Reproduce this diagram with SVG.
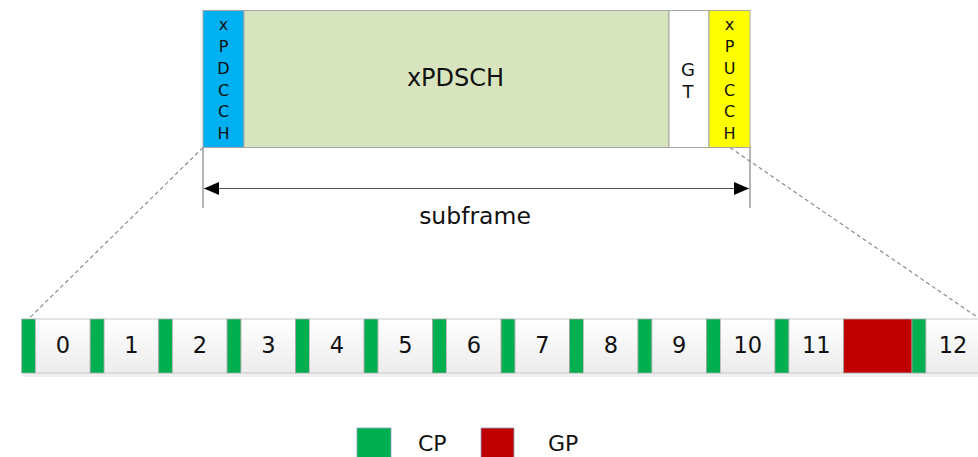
<svg xmlns="http://www.w3.org/2000/svg" width="978" height="457" viewBox="0 0 978 457">
<defs>
<style>
text{font-family:"DejaVu Sans","Open Sans","Noto Sans",sans-serif;fill:#111}
.bx{stroke:#a6a6a6;stroke-width:1}
.cp{fill:#00b050;stroke:#a6a6a6;stroke-width:0.8}
.dat{fill:url(#g);stroke:#bfbfbf;stroke-width:0.8}
.num{font-size:22.5px;text-anchor:middle}
.vl{font-size:16px;text-anchor:middle}
.dash{stroke:#8c8c8c;stroke-width:1.2;stroke-dasharray:4 3;fill:none}
.ln{stroke:#8c8c8c;stroke-width:1.3;fill:none}
</style>
<linearGradient id="g" x1="0" y1="0" x2="0" y2="1">
<stop offset="0" stop-color="#ffffff"/>
<stop offset="1" stop-color="#ececec"/>
</linearGradient>
<marker id="ah" viewBox="0 0 15 13" refX="15" refY="6.5" markerWidth="15" markerHeight="13" markerUnits="userSpaceOnUse" orient="auto-start-reverse">
<path d="M0,0 L15,6.5 L0,13 Z" fill="#000"/>
</marker>
</defs>
<rect width="978" height="457" fill="#fff"/>

<g id="connectors">
<line class="dash" x1="203" y1="147.5" x2="29" y2="318.5"/>
<line class="dash" x1="730" y1="147.5" x2="977" y2="317"/>
<line class="ln" x1="203" y1="147.5" x2="203" y2="208"/>
<line class="ln" x1="750" y1="147.5" x2="750" y2="208"/>
<line x1="204" y1="188.5" x2="749" y2="188.5" stroke="#555" stroke-width="1.2" marker-start="url(#ah)" marker-end="url(#ah)"/>
</g>

<g id="xpdcch">
<rect class="bx" x="203" y="10.5" width="41" height="137" fill="#00b0f0"/>
<text class="vl" x="223.5" y="30">x</text>
<text class="vl" x="223.5" y="52">P</text>
<text class="vl" x="223.5" y="74">D</text>
<text class="vl" x="223.5" y="95.5">C</text>
<text class="vl" x="223.5" y="117">C</text>
<text class="vl" x="223.5" y="139">H</text>
</g>
<g id="xpdsch">
<rect class="bx" x="244" y="10.5" width="425" height="137" fill="#d7e4bd"/>
<text x="455.5" y="86" font-size="24" text-anchor="middle">xPDSCH</text>
</g>
<g id="gt">
<rect class="bx" x="669" y="10.5" width="40" height="137" fill="#fff"/>
<text x="688" y="75.5" font-size="18" text-anchor="middle">G</text>
<text x="688" y="97.5" font-size="18" text-anchor="middle">T</text>
</g>
<g id="xpucch">
<rect class="bx" x="709" y="10.5" width="41" height="137" fill="#ffff00"/>
<text class="vl" x="729.5" y="30">x</text>
<text class="vl" x="729.5" y="52">P</text>
<text class="vl" x="729.5" y="74">U</text>
<text class="vl" x="729.5" y="95.5">C</text>
<text class="vl" x="729.5" y="117">C</text>
<text class="vl" x="729.5" y="139">H</text>
</g>
<g id="subframe-label">
<text x="475" y="224" font-size="23.5" text-anchor="middle">subframe</text>
</g>

<g id="shadow">
<rect x="23" y="373" width="955" height="4" fill="#f0f0f0"/>
</g>

<g id="sym0"><rect class="cp" x="21.7" y="319" width="14" height="54"/><rect class="dat" x="35.7" y="319" width="54.5" height="54"/><text class="num" x="63" y="352.5">0</text></g>
<g id="sym1"><rect class="cp" x="90.2" y="319" width="14" height="54"/><rect class="dat" x="104.2" y="319" width="54.5" height="54"/><text class="num" x="131.4" y="352.5">1</text></g>
<g id="sym2"><rect class="cp" x="158.7" y="319" width="14" height="54"/><rect class="dat" x="172.7" y="319" width="54.5" height="54"/><text class="num" x="199.9" y="352.5">2</text></g>
<g id="sym3"><rect class="cp" x="227.1" y="319" width="14" height="54"/><rect class="dat" x="241.1" y="319" width="54.5" height="54"/><text class="num" x="268.4" y="352.5">3</text></g>
<g id="sym4"><rect class="cp" x="295.6" y="319" width="14" height="54"/><rect class="dat" x="309.6" y="319" width="54.5" height="54"/><text class="num" x="336.9" y="352.5">4</text></g>
<g id="sym5"><rect class="cp" x="364.1" y="319" width="14" height="54"/><rect class="dat" x="378.1" y="319" width="54.5" height="54"/><text class="num" x="405.3" y="352.5">5</text></g>
<g id="sym6"><rect class="cp" x="432.6" y="319" width="14" height="54"/><rect class="dat" x="446.6" y="319" width="54.5" height="54"/><text class="num" x="473.8" y="352.5">6</text></g>
<g id="sym7"><rect class="cp" x="501.1" y="319" width="14" height="54"/><rect class="dat" x="515.1" y="319" width="54.5" height="54"/><text class="num" x="542.3" y="352.5">7</text></g>
<g id="sym8"><rect class="cp" x="569.5" y="319" width="14" height="54"/><rect class="dat" x="583.5" y="319" width="54.5" height="54"/><text class="num" x="610.8" y="352.5">8</text></g>
<g id="sym9"><rect class="cp" x="638" y="319" width="14" height="54"/><rect class="dat" x="652" y="319" width="54.5" height="54"/><text class="num" x="679.2" y="352.5">9</text></g>
<g id="sym10"><rect class="cp" x="706.5" y="319" width="14" height="54"/><rect class="dat" x="720.5" y="319" width="54.5" height="54"/><text class="num" x="747.7" y="352.5">10</text></g>
<g id="sym11"><rect class="cp" x="775" y="319" width="14" height="54"/><rect class="dat" x="789" y="319" width="54.5" height="54"/><text class="num" x="816.2" y="352.5">11</text></g>
<g id="gp"><rect x="843.5" y="319" width="68.5" height="54" fill="#c00000" stroke="#a6a6a6" stroke-width="0.8"/></g>
<g id="sym12"><rect class="cp" x="912" y="319" width="14" height="54"/><rect class="dat" x="926" y="319" width="54.5" height="54"/><text class="num" x="953" y="352.5">12</text></g>

<g id="legend-cp">
<rect x="357" y="428" width="34" height="34" fill="#00b050" stroke="#8ea0c8" stroke-width="0.8"/>
<text x="418" y="451" font-size="22">CP</text>
</g>
<g id="legend-gp">
<rect x="481" y="428" width="33" height="34" fill="#c00000" stroke="#8ea0c8" stroke-width="0.8"/>
<text x="548" y="451" font-size="22">GP</text>
</g>
</svg>
